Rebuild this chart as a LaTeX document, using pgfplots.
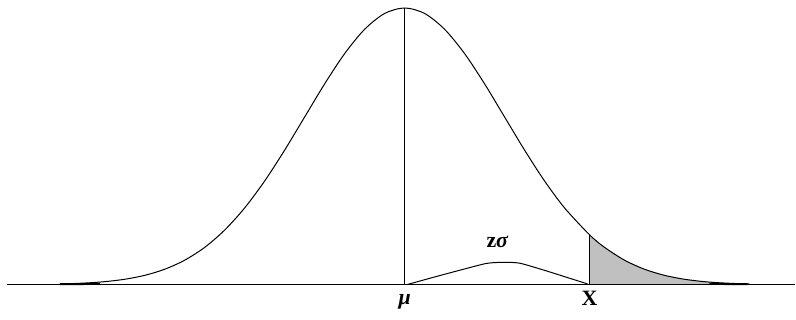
\documentclass[border=0pt]{standalone}
\usepackage{pgfplots}
\pgfplotsset{compat=1.18}
\usepackage{fontspec}
\setmainfont{Liberation Serif}
\definecolor{tailgray}{RGB}{192,192,192}
\begin{document}
\begin{tikzpicture}
\begin{axis}[
    scale only axis, width=796bp, height=320bp,
    xmin=-4.05, xmax=3.91, ymin=-0.1264, ymax=1.0289,
    hide axis, clip=false,
    every axis plot/.append style={line join=round},
]
% keeps the page as large as the frame
\addplot[draw=none] coordinates {(-4.05,-0.1264) (3.91,1.0289)};
% shaded tail beyond X
\addplot[fill=tailgray, draw=none] coordinates {
    (1.85,0.1807) (2.0,0.1353) (2.2,0.0889) (2.4,0.0561) (2.6,0.0340)
    (2.8,0.0198) (3.0,0.0111) (3.2,0.0060) (3.45,0.0026) (3.45,0) (1.85,0)
} -- cycle;
% normal curve
\addplot[black, line width=1bp, smooth] coordinates {
    (-3.45,0.0026) (-3.2,0.0060) (-3.0,0.0111) (-2.8,0.0198) (-2.6,0.0340)
    (-2.4,0.0561) (-2.2,0.0889) (-2.0,0.1353) (-1.8,0.1979) (-1.6,0.2780)
    (-1.4,0.3753) (-1.2,0.4868) (-1.0,0.6065) (-0.8,0.7261) (-0.6,0.8353)
    (-0.4,0.9231) (-0.2,0.9802) (0,1) (0.2,0.9802) (0.4,0.9231)
    (0.6,0.8353) (0.8,0.7261) (1.0,0.6065) (1.2,0.4868) (1.4,0.3753)
    (1.6,0.2780) (1.85,0.1807) (2.0,0.1353) (2.2,0.0889) (2.4,0.0561)
    (2.6,0.0340) (2.8,0.0198) (3.0,0.0111) (3.2,0.0060) (3.45,0.0026)
};
% heavier tails lying on the baseline
\addplot[black, line width=2bp] coordinates {(-3.45,0.002) (-3.05,0.003)};
\addplot[black, line width=2bp] coordinates {(3.05,0.003) (3.43,0.002)};
% baseline
\addplot[black, line width=1.5bp] coordinates {(-3.98,0) (3.91,0)};
% mean line and X line
\addplot[black, line width=1.2bp] coordinates {(0,0) (0,1)};
\addplot[black, line width=1.2bp] coordinates {(1.85,0) (1.85,0.1807)};
% z sigma arc
\addplot[black, line width=1bp, smooth, tension=0.4] coordinates {
    (0.02,0) (0.3,0.028) (0.6,0.057) (0.82,0.077) (0.98,0.081)
    (1.15,0.078) (1.4,0.052) (1.62,0.027) (1.83,0.003)
};
\node[font=\fontsize{22}{26}\selectfont\bfseries] at (axis cs:0.93,0.155) {z\textit{σ}};
\node[font=\fontsize{22}{26}\selectfont\bfseries] at (axis cs:0,-0.06) {\textit{μ}};
\node[font=\fontsize{22}{26}\selectfont\bfseries] at (axis cs:1.85,-0.048) {X};
\end{axis}
\end{tikzpicture}
\end{document}
